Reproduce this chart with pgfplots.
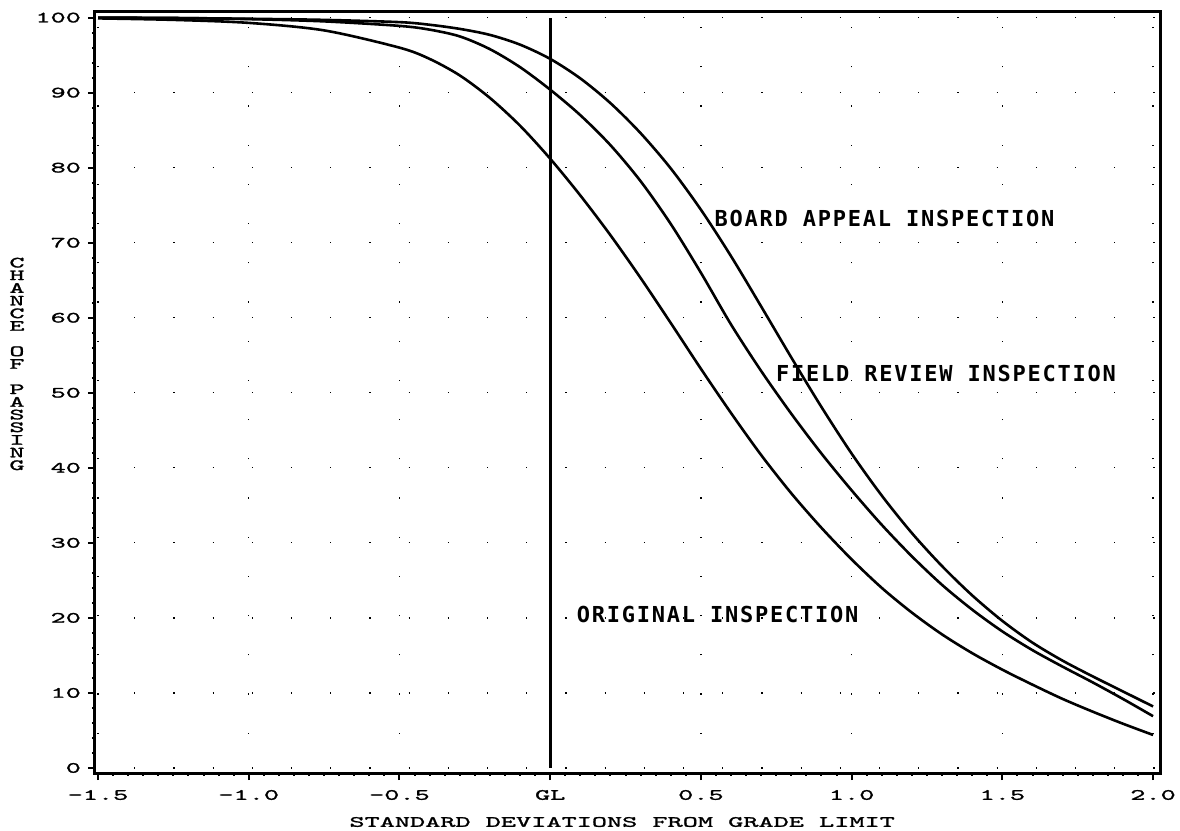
\documentclass[border=0pt]{standalone}
\usepackage{fontspec}
\usepackage{pgfplots}
\pgfplotsset{compat=1.18}

\newfontfamily\axfont[Extension=.otf,FakeStretch=1.85,FakeBold=1.5]{lmmono10-regular}
\newfontfamily\lblfont[LetterSpace=8]{DejaVu Sans Mono}

\begin{document}
\begin{tikzpicture}
\begin{axis}[
    scale only axis,
    width=532.5pt, height=380.5pt,
    xmin=-1.51, xmax=2.023,
    ymin=-0.67, ymax=100.75,
    xtick={-1.5,-1,-0.5,0,0.5,1,1.5,2},
    xticklabels={-1.5,-1.0,-0.5,GL,0.5,1.0,1.5,2.0},
    ytick={0,10,20,30,40,50,60,70,80,90,100},
    yticklabels={0,10,20,30,40,50,60,70,80,90,100},
    minor x tick num=9,
    minor y tick num=4,
    tick pos=left,
    tick align=outside,
    major tick length=3.5pt,
    minor tick length=1.3pt,
    every tick/.style={black, line width=1pt},
    axis line style={line width=1.5pt},
    ticklabel style={font=\axfont\fontsize{7.8}{9}\selectfont},
    xticklabel style={yshift=-1.5pt},
    grid=major,
    major grid style={black, line width=0.6pt, dash pattern=on 0.6pt off 19pt},
    xlabel={STANDARD DEVIATIONS FROM GRADE LIMIT},
    every axis x label/.style={at={(rel axis cs:0.495,0)}, yshift=-24.5pt, anchor=center,
        font=\axfont\fontsize{7.8}{9}\selectfont},
    ylabel={C\\H\\A\\N\\C\\E\\~\\O\\F\\~\\P\\A\\S\\S\\I\\N\\G},
    every axis y label/.style={at={(rel axis cs:0,0.5375)}, xshift=-39pt, anchor=center,
        align=center, font=\axfont\fontsize{7.8}{6.33}\selectfont},
]
% grade limit
\addplot[black, line width=1.4pt, mark=none] coordinates {(0,0) (0,100)};
% original inspection
\addplot[black, line width=1.3pt, smooth] coordinates {
    (-1.5,99.9) (-1.25,99.7) (-1.0,99.3) (-0.75,98.3) (-0.5,96.0) (-0.4,94.5)
    (-0.3,92.3) (-0.2,89.3) (-0.1,85.6) (0,81.2) (0.1,76.3) (0.2,71.0)
    (0.3,65.3) (0.4,59.3) (0.5,53.2) (0.6,47.3) (0.7,41.7) (0.8,36.6)
    (0.9,32.0) (1.0,27.8) (1.1,24.0) (1.2,20.7) (1.3,17.8) (1.4,15.3)
    (1.5,13.1) (1.6,11.1) (1.7,9.2) (1.8,7.5) (1.9,5.9) (2.0,4.4)
};
% field review inspection
\addplot[black, line width=1.3pt, smooth] coordinates {
    (-1.5,100) (-1.25,99.95) (-1.0,99.8) (-0.75,99.5) (-0.5,98.9) (-0.4,98.4)
    (-0.3,97.5) (-0.2,95.8) (-0.1,93.4) (0,90.4) (0.1,87.0) (0.2,83.0)
    (0.3,78.2) (0.4,72.5) (0.5,66.0) (0.6,59.1) (0.7,52.9) (0.8,47.2)
    (0.9,41.9) (1.0,37.0) (1.1,32.4) (1.2,28.2) (1.3,24.4) (1.4,21.1)
    (1.5,18.2) (1.6,15.7) (1.7,13.5) (1.8,11.4) (1.9,9.2) (2.0,6.9)
};
% board appeal inspection
\addplot[black, line width=1.3pt, smooth] coordinates {
    (-1.5,100) (-1.25,99.95) (-1.0,99.85) (-0.75,99.7) (-0.5,99.4) (-0.4,99.05)
    (-0.3,98.5) (-0.2,97.7) (-0.1,96.4) (0,94.5) (0.1,91.9) (0.2,88.6)
    (0.3,84.6) (0.4,79.9) (0.5,74.4) (0.6,68.2) (0.7,61.5) (0.8,54.7)
    (0.9,48.1) (1.0,41.9) (1.1,36.3) (1.2,31.3) (1.3,26.9) (1.4,23.0)
    (1.5,19.6) (1.6,16.7) (1.7,14.3) (1.8,12.2) (1.9,10.2) (2.0,8.2)
};
\node[anchor=west, inner sep=0pt, font=\lblfont\bfseries\fontsize{11}{13}\selectfont]
    at (axis cs:0.544,73.2) {BOARD APPEAL INSPECTION};
\node[anchor=west, inner sep=0pt, font=\lblfont\bfseries\fontsize{11}{13}\selectfont]
    at (axis cs:0.748,52.6) {FIELD REVIEW INSPECTION};
\node[anchor=west, inner sep=0pt, font=\lblfont\bfseries\fontsize{11}{13}\selectfont]
    at (axis cs:0.087,20.4) {ORIGINAL INSPECTION};
\end{axis}
\pgfresetboundingbox
\path ([shift={(-47.5pt,-29pt)}]current axis.south west)
    rectangle ([shift={(10pt,6pt)}]current axis.north east);
\end{tikzpicture}
\end{document}
